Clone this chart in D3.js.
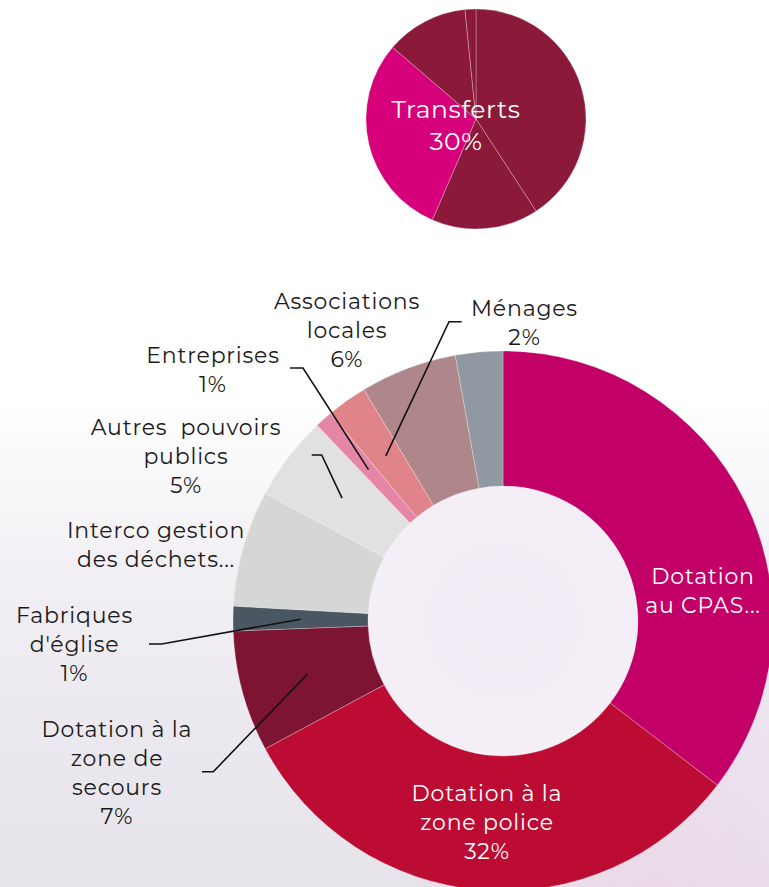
<!DOCTYPE html>
<html>
<head>
<meta charset="utf-8">
<script src="https://cdn.jsdelivr.net/npm/d3@7"></script>
<style>
  html, body { margin: 0; padding: 0; background: #fff; overflow: hidden; }
  svg { display: block; }
</style>
</head>
<body>
<svg id="chart" width="769" height="887"></svg>
<script>
// ---------- DATA ----------
// Top pie (overall expenditure split)
const topCategories = ["Personnel", "Fonctionnement", "Transferts", "Dette", "Prélèvements"];
const topValues     = [40.8, 15.7, 29.8, 12.1, 1.6];
const topLabels     = ["", "", "Transferts", "", ""];
const topPctLabels  = ["", "", "30%", "", ""];

// Donut (breakdown of transfers)
const donutCategories = [
  "Dotation au CPAS", "Dotation à la zone police", "Dotation à la zone de secours",
  "Fabriques d'église", "Interco gestion des déchets", "Autres pouvoirs publics",
  "Entreprises", "Ménages", "Associations locales", "Autres"
];
const donutValues = [35.4, 31.75, 7.25, 1.47, 6.97, 5.06, 1.06, 2.42, 5.78, 2.83];
const donutLabelLines = [
  ["Dotation", "au CPAS..."],
  ["Dotation à la", "zone police", "32%"],
  ["Dotation à la", "zone de", "secours", "7%"],
  ["Fabriques", "d'église", "1%"],
  ["Interco gestion", "des déchets..."],
  ["Autres  pouvoirs", "publics", "5%"],
  ["Entreprises", "1%"],
  ["Ménages", "2%"],
  ["Associations", "locales", "6%"],
  []
];

// ---------- STYLE / LAYOUT ----------
const topColors   = ["#8B193A", "#8B193A", "#D6007A", "#8B193A", "#8B193A"];
const donutColors = ["#C30068", "#BC0C33", "#7D1431", "#4A5661", "#D5D7D5",
                     "#E1E1E1", "#E586A6", "#E0848A", "#AF878B", "#9099A1"];

const topLayout = { cx: 476, cy: 119, r: 110 };
const donutLayout = { cx: 503, cy: 621, rIn: 135, rOut: 270 };

// label anchor positions (center x, first baseline y), text colour
const donutLabelPos = [
  { x: 703, y: 584, fill: "#fff" },
  { x: 487, y: 801, fill: "#fff" },
  { x: 117, y: 737, fill: "#1a1a1a" },
  { x: 74.5, y: 623, fill: "#1a1a1a" },
  { x: 156, y: 538, fill: "#1a1a1a" },
  { x: 186, y: 435, fill: "#1a1a1a" },
  { x: 213, y: 363, fill: "#1a1a1a" },
  { x: 524.5, y: 316, fill: "#1a1a1a" },
  { x: 347, y: 309, fill: "#1a1a1a" },
  null
];
// leader line start and elbow (tip computed from the arc centroid)
const leaders = {
  2: { x0: 202, y0: 771.7, x1: 213.3, y1: 771.7 },
  3: { x0: 149, y0: 644, x1: 161.7, y1: 644 },
  5: { x0: 311.7, y0: 455, x1: 321.7, y1: 455 },
  6: { x0: 290, y0: 368, x1: 303, y1: 368 },
  7: { x0: 461.7, y0: 321.7, x1: 449, y1: 321.7 }
};

const FONT = "Montserrat, 'DejaVu Sans', sans-serif";
const LINE_H = 29;

// ---------- DRAW ----------
const svg = d3.select("#chart");
const defs = svg.append("defs");

const bg = defs.append("linearGradient").attr("id", "bgGrad")
  .attr("x1", 0).attr("y1", 0).attr("x2", 0).attr("y2", 1);
bg.append("stop").attr("offset", 0).attr("stop-color", "#ffffff");
bg.append("stop").attr("offset", 0.45).attr("stop-color", "#ffffff");
bg.append("stop").attr("offset", 0.62).attr("stop-color", "#f3f1f5");
bg.append("stop").attr("offset", 0.82).attr("stop-color", "#ebe8ef");
bg.append("stop").attr("offset", 1).attr("stop-color", "#e6e3ea");

const pinkGlow = defs.append("radialGradient").attr("id", "pinkGlow")
  .attr("cx", 0.85).attr("cy", 1).attr("r", 0.35);
pinkGlow.append("stop").attr("offset", 0).attr("stop-color", "#efd0e6").attr("stop-opacity", 0.55);
pinkGlow.append("stop").attr("offset", 1).attr("stop-color", "#efd0e6").attr("stop-opacity", 0);

const holeGrad = defs.append("radialGradient").attr("id", "holeGrad")
  .attr("cx", 0.5).attr("cy", 0.5).attr("r", 0.5);
holeGrad.append("stop").attr("offset", 0).attr("stop-color", "#f1eaf4");
holeGrad.append("stop").attr("offset", 1).attr("stop-color", "#f4eef6");

svg.append("rect").attr("width", 769).attr("height", 887).attr("fill", "url(#bgGrad)");
svg.append("rect").attr("width", 769).attr("height", 887).attr("fill", "url(#pinkGlow)");

// Donut hole tint
svg.append("circle")
  .attr("cx", donutLayout.cx).attr("cy", donutLayout.cy).attr("r", donutLayout.rIn)
  .attr("fill", "url(#holeGrad)");

// ---- Top pie ----
const topPie = d3.pie().sort(null).value(d => d)(topValues);
const topArc = d3.arc().innerRadius(0).outerRadius(topLayout.r);
const gTop = svg.append("g").attr("transform", `translate(${topLayout.cx},${topLayout.cy})`);
gTop.selectAll("path").data(topPie).join("path")
  .attr("d", topArc)
  .attr("fill", (d, i) => topColors[i])
  .attr("stroke", "rgba(255,255,255,0.45)")
  .attr("stroke-width", 0.6);

topPie.forEach((d, i) => {
  if (!topLabels[i]) return;
  const t = svg.append("text")
    .attr("text-anchor", "middle")
    .attr("fill", "#fff")
    .attr("font-family", FONT).attr("font-size", 25)
    .attr("letter-spacing", 0.6);
  t.append("tspan").attr("x", 456).attr("y", 118).text(topLabels[i]);
  t.append("tspan").attr("x", 456).attr("y", 150).text(topPctLabels[i]);
});

// ---- Donut ----
const donutPie = d3.pie().sort(null).value(d => d)(donutValues);
const donutArc = d3.arc().innerRadius(donutLayout.rIn).outerRadius(donutLayout.rOut);
const gDonut = svg.append("g").attr("transform", `translate(${donutLayout.cx},${donutLayout.cy})`);
gDonut.selectAll("path").data(donutPie).join("path")
  .attr("d", donutArc)
  .attr("fill", (d, i) => donutColors[i])
  .attr("stroke", "rgba(255,255,255,0.45)")
  .attr("stroke-width", 0.6);

// leader lines
const gLead = svg.append("g");
Object.keys(leaders).forEach(k => {
  const i = +k;
  const L = leaders[i];
  const c = donutArc.centroid(donutPie[i]);
  const tip = [donutLayout.cx + c[0], donutLayout.cy + c[1]];
  gLead.append("path")
    .attr("d", d3.line()([[L.x0, L.y0], [L.x1, L.y1], tip]))
    .attr("fill", "none")
    .attr("stroke", "#111")
    .attr("stroke-width", 1.6);
});

// labels
const gLab = svg.append("g");
donutLabelLines.forEach((lines, i) => {
  const p = donutLabelPos[i];
  if (!p || !lines.length) return;
  const t = gLab.append("text")
    .attr("text-anchor", "middle")
    .attr("fill", p.fill)
    .attr("font-family", FONT).attr("font-size", 22)
    .attr("letter-spacing", 0.8)
    .style("white-space", "pre");
  lines.forEach((ln, j) => {
    t.append("tspan").attr("x", p.x).attr("y", p.y + j * LINE_H).text(ln);
  });
});
</script>
</body>
</html>
